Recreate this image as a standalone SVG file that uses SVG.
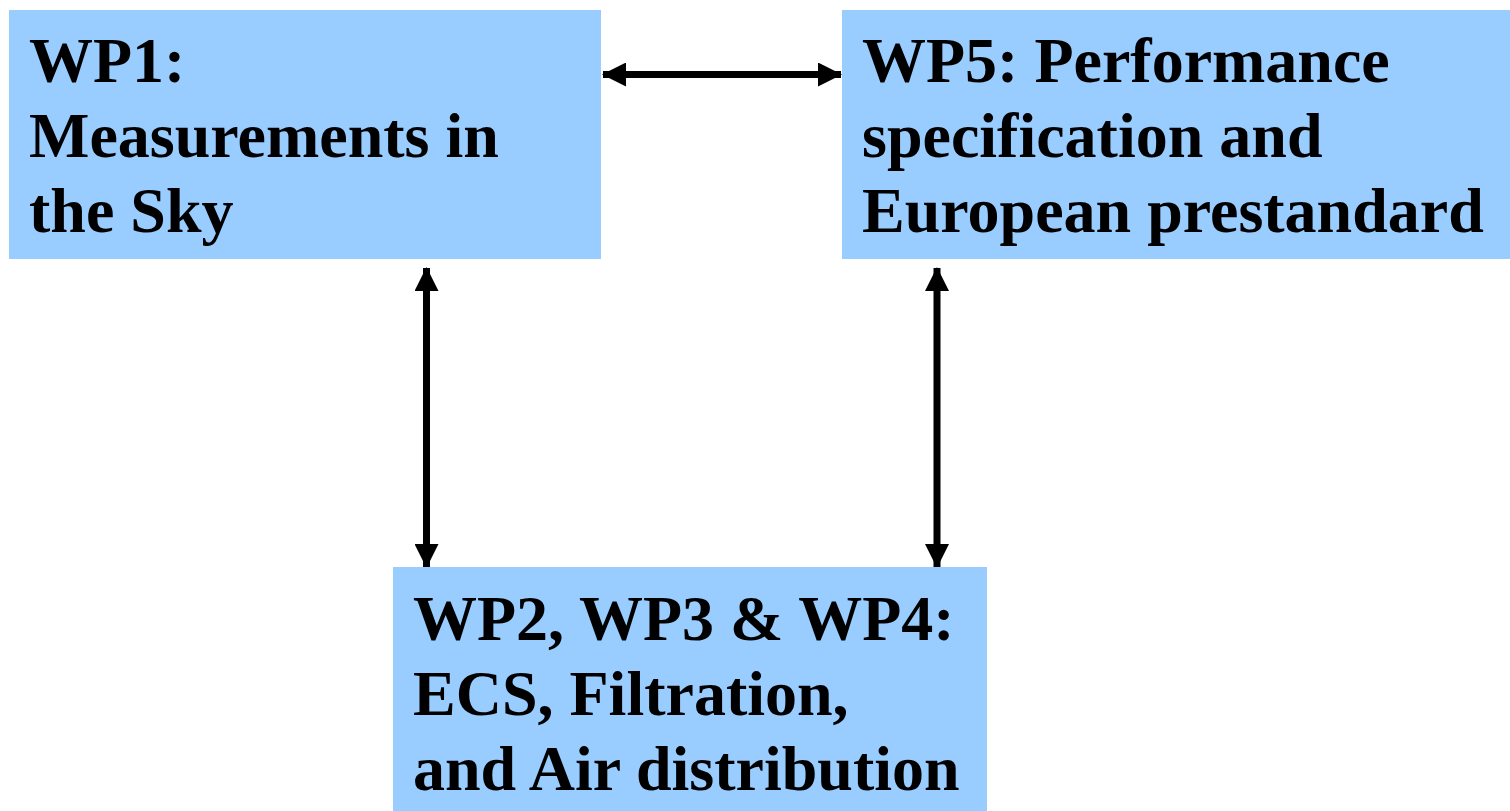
<svg xmlns="http://www.w3.org/2000/svg" width="1510" height="811" viewBox="0 0 1510 811">
<style>
.box{fill:#99CCFF;stroke:none}
.lbl{font-family:"Liberation Serif","Times New Roman",serif;font-weight:bold;font-size:64px;fill:#000}
.conn{stroke:#000;stroke-width:7;fill:none}
</style>
<defs>
<marker id="ah" markerUnits="userSpaceOnUse" markerWidth="24" markerHeight="24" viewBox="0 0 24 24" refX="23" refY="12" orient="auto-start-reverse">
<path d="M0,0 L24,12 L0,24 Z" fill="#000"/>
</marker>
</defs>
<rect width="1510" height="811" fill="#fff"/>
<g id="connectors">
<line class="conn" x1="603" y1="74.5" x2="841" y2="74.5" marker-start="url(#ah)" marker-end="url(#ah)"/>
<line class="conn" x1="426.5" y1="268" x2="426.5" y2="567" marker-start="url(#ah)" marker-end="url(#ah)"/>
<line class="conn" x1="937" y1="268" x2="937" y2="567" marker-start="url(#ah)" marker-end="url(#ah)"/>
</g>
<g id="wp1">
<rect class="box" x="9" y="10" width="592" height="249"/>
<text class="lbl"><tspan x="29" y="82">WP1:</tspan><tspan x="29" y="157">Measurements in</tspan><tspan x="29" y="232">the Sky</tspan></text>
</g>
<g id="wp5">
<rect class="box" x="842" y="10" width="668" height="249"/>
<text class="lbl"><tspan x="862" y="82">WP5: Performance</tspan><tspan x="862" y="157">specification and</tspan><tspan x="862" y="232">European prestandard</tspan></text>
</g>
<g id="wp234">
<rect class="box" x="393" y="567" width="594" height="244"/>
<text class="lbl"><tspan x="413" y="640">WP2, WP3 &amp; WP4:</tspan><tspan x="413" y="715">ECS, Filtration,</tspan><tspan x="413" y="790">and Air distribution</tspan></text>
</g>
</svg>
